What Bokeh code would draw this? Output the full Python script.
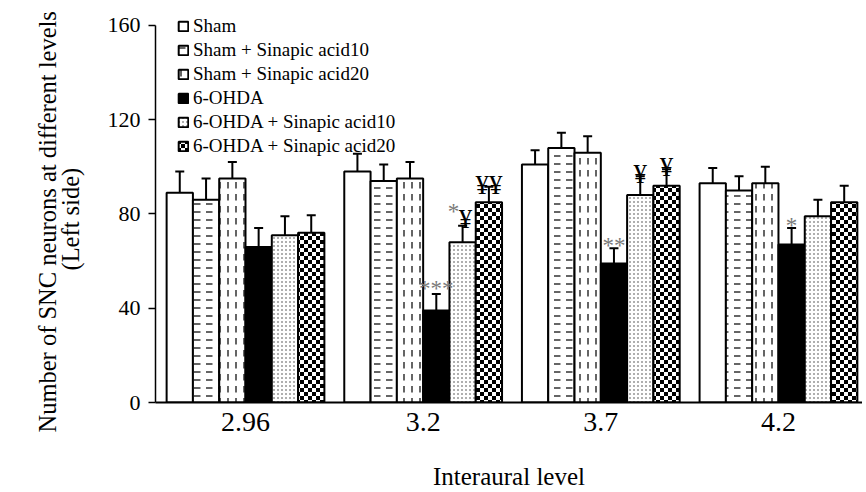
import base64
from bokeh.plotting import figure
from bokeh.models import ColumnDataSource, Range1d, FixedTicker, ImageURLTexture, Title
from bokeh.transform import dodge
from bokeh.core.properties import value
from bokeh.embed import file_html
from bokeh.resources import INLINE

# ---------------- data ----------------
levels = ["2.96", "3.2", "3.7", "4.2"]
series_names = [
    "Sham",
    "Sham + Sinapic acid10",
    "Sham + Sinapic acid20",
    "6-OHDA",
    "6-OHDA + Sinapic acid10",
    "6-OHDA + Sinapic acid20",
]
sham = [89, 98, 101, 93]
sham_err = [9, 7.5, 6, 6.5]
sham_sa10 = [86, 94, 108, 90]
sham_sa10_err = [9, 7, 6.5, 6]
sham_sa20 = [95, 95, 106, 93]
sham_sa20_err = [7, 7, 7, 7]
ohda = [66, 39, 59, 67]
ohda_err = [8, 7, 6.5, 7]
ohda_sa10 = [71, 68, 88, 79]
ohda_sa10_err = [8, 7, 8, 7]
ohda_sa20 = [72, 85, 92, 85]
ohda_sa20_err = [7.5, 6.5, 7, 7]
y_ticks = [0, 40, 80, 120, 160]
y_title = "Number of SNC neurons at different levels"
y_subtitle = "(Left side)"
x_title = "Interaural level"

# significance marks: (level index, series index, text)
star_level = [1, 1, 2, 3]
star_series = [3, 4, 3, 3]
star_text = ["***", "*", "**", "*"]
yen_level = [1, 1, 2, 2]
yen_series = [4, 5, 4, 5]
yen_text = ["¥", "¥¥", "¥", "¥"]

values = [sham, sham_sa10, sham_sa20, ohda, ohda_sa10, ohda_sa20]
errors = [sham_err, sham_sa10_err, sham_sa20_err, ohda_err, ohda_sa10_err, ohda_sa20_err]

# ---------------- fill textures ----------------
def svg_texture(w, h, body):
    svg = (f"<svg xmlns='http://www.w3.org/2000/svg' width='{w}' height='{h}'>"
           f"<rect width='{w}' height='{h}' fill='white'/>{body}</svg>")
    return ImageURLTexture(url="data:image/svg+xml;base64," +
                           base64.b64encode(svg.encode()).decode())

hdash = svg_texture(12, 8, "<rect x='2' y='3.4' width='6.5' height='1.2' fill='black'/>")
vdash = svg_texture(8, 12, "<rect x='3.4' y='2' width='1.2' height='6.5' fill='black'/>")
dots = svg_texture(4, 4, "<rect x='1.4' y='1.4' width='1.2' height='1.2' fill='#222'/>")
checker = svg_texture(8, 8, "<rect width='4' height='4' fill='black'/>"
                            "<rect x='4' y='4' width='4' height='4' fill='black'/>")

def tex(name, t):
    return dict(fill_color="white", hatch_pattern=value(name), hatch_extra={name: t})

styles = [
    dict(fill_color="white"),
    tex("hd", hdash),
    tex("vd", vdash),
    dict(fill_color="black"),
    tex("dt", dots),
    tex("ck", checker),
]

FONT = "Liberation Serif"
Y_MAX = 160
Y_HEADROOM = 164.21   # room above the axis so the legend is not clipped

p = figure(width=862, height=492, output_backend="svg", toolbar_location=None,
           x_range=Range1d(-0.5066, 3.473), y_range=Range1d(0, Y_HEADROOM),
           min_border_left=155, min_border_right=0, min_border_top=15, min_border_bottom=87)
p.outline_line_color = None
p.grid.visible = False

n = len(series_names)
bw = 0.148
offsets = [(k - (n - 1) / 2) * bw for k in range(n)]
groups = list(range(len(levels)))

for k in range(n):
    vals, errs = values[k], errors[k]
    src = ColumnDataSource(dict(x=groups, top=vals,
                                upper=[v + e for v, e in zip(vals, errs)]))
    xo = dodge("x", offsets[k])
    p.vbar(x=xo, top="top", bottom=0, width=bw, source=src,
           line_color="black", line_width=2, legend_label=series_names[k], **styles[k])
    p.segment(x0=xo, y0="top", x1=xo, y1="upper", source=src,
              line_color="black", line_width=2)
    p.scatter(x=xo, y="upper", marker="dash", size=9, line_width=2,
              line_color="black", source=src)

# significance marks
def mark_source(lv, si, txt):
    xs = [lv[i] + offsets[si[i]] for i in range(len(lv))]
    ys = [values[si[i]][lv[i]] + errors[si[i]][lv[i]] for i in range(len(lv))]
    return ColumnDataSource(dict(x=xs, y=ys, t=txt))

ssrc = mark_source(star_level, star_series, star_text)
ssrc.data["dx"] = [0, -9, 0, 0]   # star paired with a yen mark sits to its left
ssrc.data["dy"] = [-6, -14, -3, -3]
p.text(x="x", y="y", text="t", x_offset="dx", y_offset="dy", source=ssrc,
       text_font=value(FONT), text_font_size="23px", text_color="#7a7a7a",
       text_align="center", text_baseline="alphabetic")
ysrc = mark_source(yen_level, yen_series, yen_text)
ysrc.data["dx"] = [3, 0, 0, 0]
ysrc.data["dy"] = [-7, -2, -2, -2]
p.text(x="x", y="y", text="t", x_offset="dx", y_offset="dy", source=ysrc,
       text_font=value(FONT), text_font_size="27px", text_color="black",
       text_align="center", text_baseline="alphabetic")

# axes
p.yaxis.ticker = FixedTicker(ticks=y_ticks)
p.yaxis.bounds = (0, Y_MAX)
p.yaxis.minor_tick_line_color = None
p.yaxis.major_tick_out = 7
p.yaxis.major_tick_in = 0
p.yaxis.major_label_standoff = 8
p.yaxis.axis_line_width = 1.5
p.yaxis.major_tick_line_width = 1.5
p.yaxis.major_label_text_font = FONT
p.yaxis.major_label_text_font_size = "22px"
p.yaxis.major_label_text_color = "black"

# two-line y title (second line nearer the axis)
for txt, sd, off in ((y_subtitle, 42, 132), (y_title, -54, -30)):
    t = Title(text=txt, align="left", offset=off, standoff=sd,
              text_font=FONT, text_font_size="24.5px", text_font_style="normal",
              text_color="black")
    p.add_layout(t, "left")

p.xaxis.ticker = FixedTicker(ticks=groups)
p.xaxis.major_label_overrides = {g: lab for g, lab in zip(groups, levels)}
p.xaxis.minor_tick_line_color = None
p.xaxis.major_tick_line_color = None
p.xaxis.major_tick_out = 0
p.xaxis.major_tick_in = 0
p.xaxis.major_label_standoff = 10
p.xaxis.axis_line_width = 2
p.xaxis.major_label_text_font = FONT
p.xaxis.major_label_text_font_size = "28px"
p.xaxis.major_label_text_color = "black"
p.xaxis.axis_label = x_title
p.xaxis.axis_label_text_font = FONT
p.xaxis.axis_label_text_font_size = "25px"
p.xaxis.axis_label_text_font_style = "normal"
p.xaxis.axis_label_text_color = "black"
p.xaxis.axis_label_standoff = 29

lg = p.legend[0]
lg.location = (22, 245)
lg.border_line_color = None
lg.background_fill_alpha = 0
lg.padding = 0
lg.margin = 0
lg.spacing = 2
lg.glyph_width = 12
lg.glyph_height = 12
lg.label_height = 20
lg.label_standoff = 4
lg.label_text_font = FONT
lg.label_text_font_size = "19px"
lg.label_text_color = "black"

open("out.html", "w").write(file_html(p, INLINE))
